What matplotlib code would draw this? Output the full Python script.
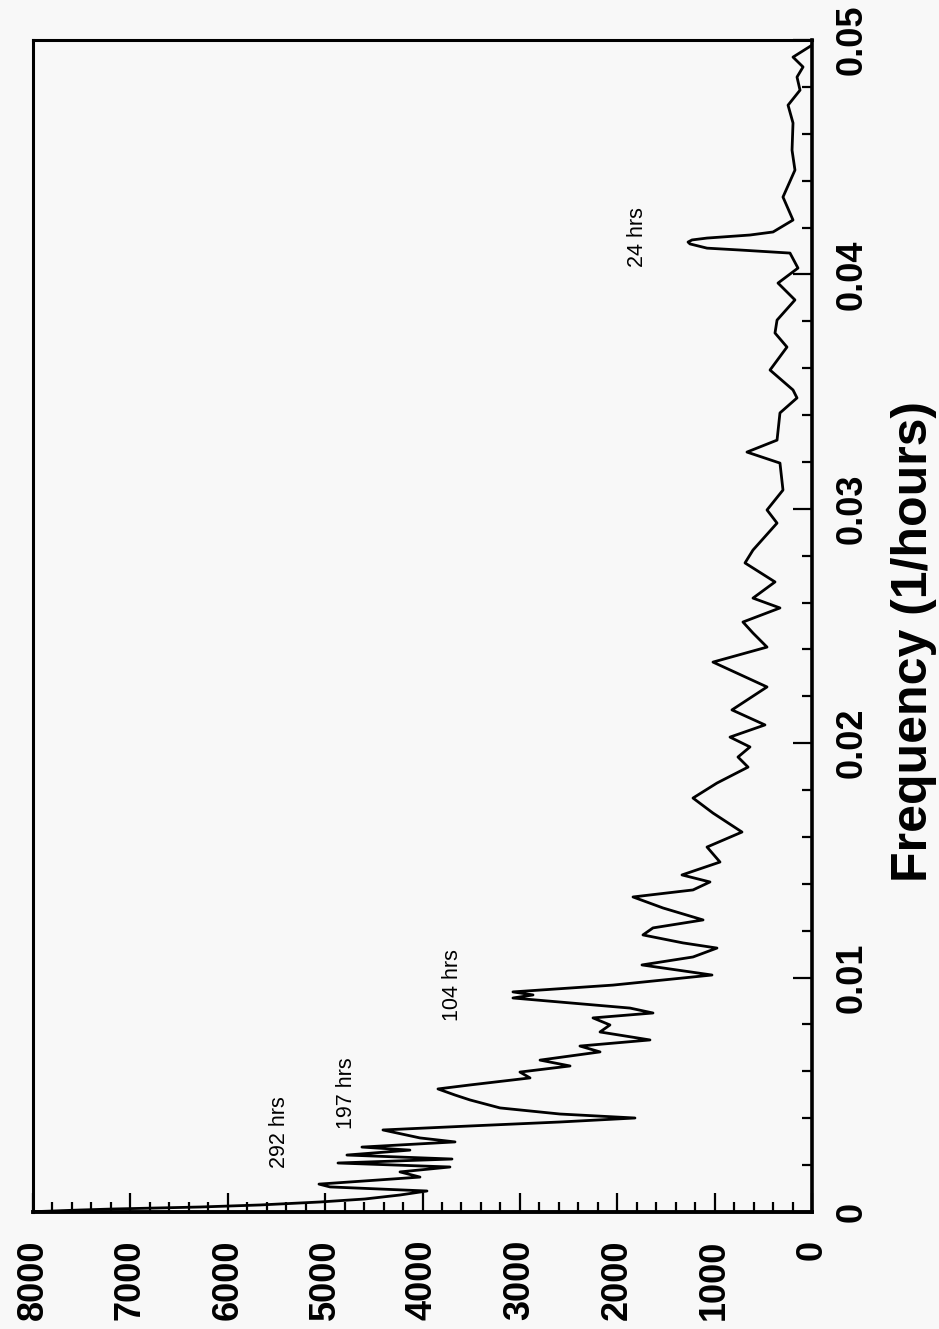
import matplotlib
matplotlib.use("Agg")
import matplotlib.pyplot as plt
from matplotlib.ticker import MultipleLocator

# ---- data (power spectrum) ----
freq = [0.0, 0.000085, 0.000128, 0.000213, 0.0003, 0.000427, 0.000555, 0.000725, 0.000896,
        0.00107, 0.00119, 0.00137, 0.00149, 0.00171, 0.00192, 0.00209, 0.00226, 0.00243,
        0.00264, 0.00277, 0.00299, 0.00316, 0.0035, 0.00367, 0.00384, 0.00401, 0.00418,
        0.00444, 0.00478, 0.00499, 0.00525, 0.00542, 0.00572, 0.00597, 0.00623, 0.00648,
        0.00683, 0.00708, 0.00734, 0.00768, 0.00798, 0.00828, 0.00849, 0.0087, 0.00913,
        0.00926, 0.00939, 0.00968, 0.01011, 0.01054, 0.01088, 0.01126, 0.01148, 0.01182,
        0.01212, 0.01246, 0.01297, 0.01344, 0.01374, 0.01408, 0.01438, 0.01493, 0.01557,
        0.01621, 0.01702, 0.01766, 0.0183, 0.01898, 0.01941, 0.01984, 0.02026, 0.02078,
        0.02142, 0.0224, 0.02346, 0.0241, 0.0247, 0.02517, 0.02577, 0.02619, 0.02688,
        0.02769, 0.02824, 0.02939, 0.02995, 0.0308, 0.03195, 0.03242, 0.03293, 0.03409,
        0.03473, 0.03507, 0.03592, 0.0369, 0.0375, 0.03805, 0.03891, 0.03963, 0.04027,
        0.04091, 0.04104, 0.04112, 0.0413, 0.04138, 0.04147, 0.04155, 0.04168, 0.04181,
        0.04232, 0.0433, 0.04445, 0.0453, 0.04646, 0.04722, 0.04786, 0.04842, 0.04885,
        0.04927, 0.04978]
power = [8083, 7518, 7179, 6285, 5669, 5053, 4591, 4231, 3954,
         4950, 5063, 4437, 4026, 4231, 3718, 4868, 3697, 4776,
         4129, 4622, 3666, 4026, 4406, 3512, 2588, 1818, 2588,
         3204, 3512, 3666, 3841, 3512, 2896, 2999, 2485, 2793,
         2177, 2383, 1664, 2177, 2075, 2249, 1633, 1869, 3071,
         2865, 3071, 2044, 1027, 1746, 1222, 976, 1325, 1736,
         1633, 1119, 1530, 1838, 1222, 1048, 1335, 945, 1078,
         719, 1017, 1222, 976, 657, 760, 637, 842, 483,
         822, 462, 1017, 462, 606, 709, 329, 606, 380,
         688, 606, 359, 462, 298, 329, 668, 359, 329,
         154, 195, 431, 257, 380, 359, 175, 349, 144,
         226, 739, 1078, 1253, 1273, 1232, 1078, 637, 400,
         195, 298, 175, 205, 195, 246, 123, 154, 92,
         195, 0]

annot_text = ["292 hrs", "197 hrs", "104 hrs", "24 hrs"]
annot_freq = [0.00341, 0.00508, 0.00968, 0.0416]
annot_power = [5464, 4776, 3687, 1797]

power_ticks = [0, 1000, 2000, 3000, 4000, 5000, 6000, 7000, 8000]
freq_ticks = [0, 0.01, 0.02, 0.03, 0.04, 0.05]
freq_ticklabels = ["0", "0.01", "0.02", "0.03", "0.04", "0.05"]

plt.rcParams['font.family'] = ['Liberation Sans', 'DejaVu Sans']

fig = plt.figure(figsize=(9.39, 13.29), dpi=100)
fig.patch.set_facecolor('#f8f8f8')
ax = fig.add_axes([33/939, 117/1329, (812-33)/939, (1212-40)/1329])
ax.set_facecolor('#f8f8f8')

ax.plot(power, freq, color='black', lw=2.0, clip_on=True)

ax.set_xlim(8000, 0)
ax.set_ylim(0, 0.05)

ax.yaxis.tick_right()
ax.set_xticks(power_ticks)
ax.set_xticklabels([str(v) for v in power_ticks], rotation=90, fontsize=26,
                   fontweight='bold')
ax.set_yticks(freq_ticks)
ax.set_yticklabels(freq_ticklabels, rotation=90, fontsize=26, fontweight='bold',
                   va='center')
ax.xaxis.set_minor_locator(MultipleLocator(200))
ax.yaxis.set_minor_locator(MultipleLocator(0.002))

ax.tick_params(axis='x', which='major', direction='in', length=14, width=1.6,
               pad=20, top=False, bottom=True)
ax.tick_params(axis='x', which='minor', direction='in', length=7, width=1.6,
               top=False, bottom=True)
ax.tick_params(axis='y', which='major', direction='in', length=14, width=1.6,
               pad=16, left=False, right=True)
ax.tick_params(axis='y', which='minor', direction='in', length=7, width=1.6,
               left=False, right=True)

for s in ax.spines.values():
    s.set_linewidth(2.2)
ax.spines['bottom'].set_linewidth(2.8)
ax.spines['right'].set_linewidth(2.6)

for t, f, p in zip(annot_text, annot_freq, annot_power):
    ax.text(p, f, t, rotation=90, ha='center', va='center', fontsize=15.5)

fig.text(914/939, 1 - 642/1329, "Frequency (1/hours)", rotation=90,
         ha='center', va='center', fontsize=36, fontweight='bold')

fig.savefig("out.png", dpi=100, facecolor=fig.get_facecolor())
